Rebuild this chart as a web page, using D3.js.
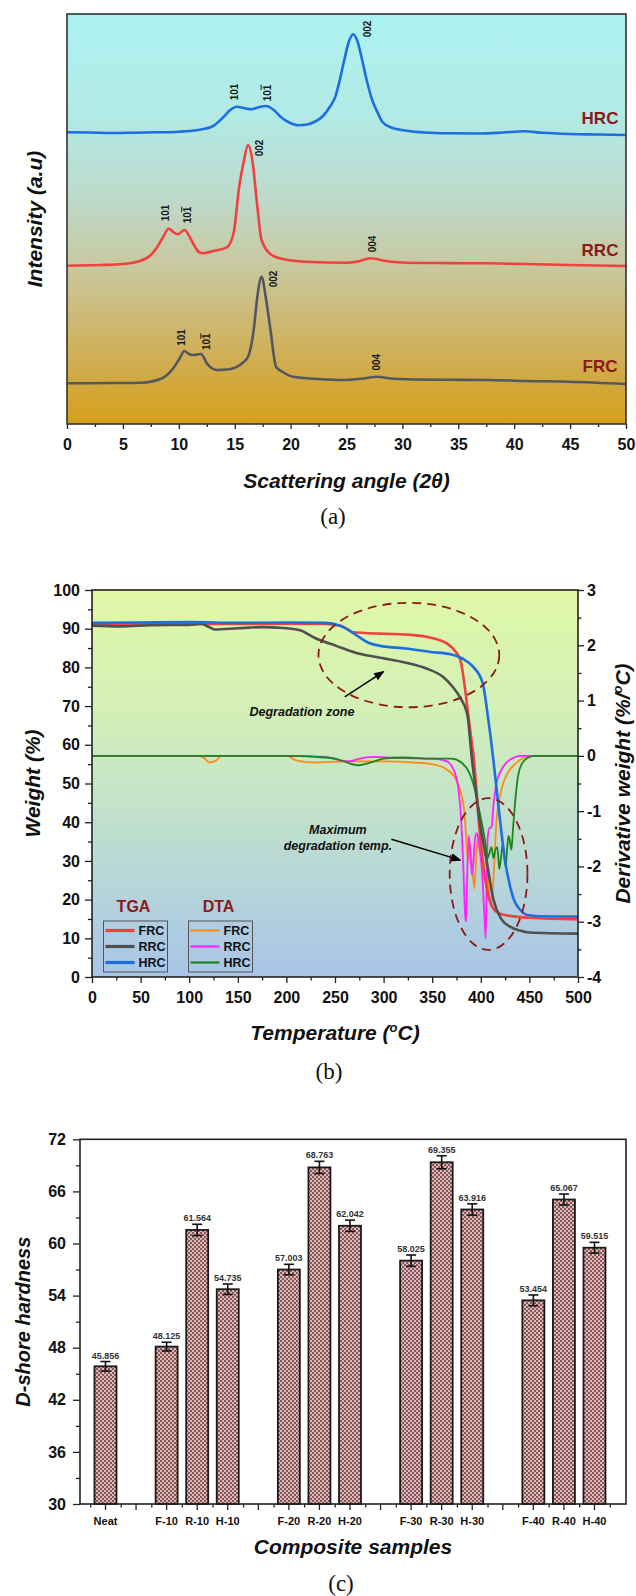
<!DOCTYPE html>
<html><head><meta charset="utf-8">
<script src="https://cdn.jsdelivr.net/npm/d3@7"></script>
<style>
body{margin:0;background:#fff;}
svg{display:block;font-family:"Liberation Sans",Arial,sans-serif;}
.tick text{font-weight:bold;fill:#111;}
</style></head><body>
<svg id="fig" width="636" height="1596"></svg>
<script>
// ---------- Panel (a): XRD (angle, intensity a.u.) ----------
const xrdTicks = [0,5,10,15,20,25,30,35,40,45,50];
const xrdHRC = [[0,291.7],[2,291.5],[4,291],[6,291.3],[8,291.7],[10,292.3],[11,293],[12,294.5],[13,297.5],[14,307],[14.6,314],[15.2,317.3],[15.8,316],[16.5,314.7],[17.2,317],[17.8,318],[18.5,314],[19.1,307.3],[19.8,302],[20.7,298.7],[21.5,299.5],[22.2,302.5],[22.9,308],[23.5,317],[24.0,327.3],[24.4,344],[24.8,364],[25.2,382],[25.6,389.7],[26.0,382],[26.4,364],[26.8,344],[27.3,324],[27.8,311],[28.2,302.3],[29,296.5],[30.4,293.3],[32,291.5],[34,290.7],[37,290.5],[39,291.5],[40.9,292.7],[42.5,291.2],[45,290],[47.5,289.5],[50,289]];
const xrdRRC = [[0,158.3],[3,159],[5,160],[6.5,163],[7.4,168],[8.0,175.7],[8.6,187],[9.1,195.3],[9.5,192],[9.9,189.7],[10.5,194],[11.2,182.3],[11.7,173],[12.1,170.7],[13.2,173.3],[14.3,176.7],[14.9,190.7],[15.4,237.3],[15.8,262],[16.2,279],[16.6,262],[17.0,220],[17.4,184],[18.3,169],[19.5,164.5],[21.3,162.3],[24.9,161.3],[26,162.5],[27.1,165.7],[28.5,163],[30.4,161.3],[34,160.9],[37.6,160.7],[41,160],[44.9,159],[50,158]];
const xrdFRC = [[0,40.7],[4,41],[6.7,41.3],[8.5,45.7],[9.6,57.3],[10.1,66],[10.5,73],[10.9,70],[11.3,69],[12.0,70],[12.5,60.7],[13.4,54],[14.3,54.5],[15.1,56.7],[15.8,62],[16.2,67.3],[16.7,94],[17.0,125],[17.4,147.3],[17.8,125],[18.2,94],[18.7,57.3],[19.3,52],[20.2,47.3],[22.5,45],[24.9,44],[26.5,45.5],[27.7,47.3],[29,45.5],[30.4,44.7],[34,44.2],[37.6,44],[41,43],[44.9,42.3],[50,40]];
// peak annotations: [angle, intensity, text, overline-last]
const peakLabels = [[26.9,395,"002",false],[15.0,332,"101",false],[17.9,331,"101",true],[17.2,276,"002",false],[8.8,211,"101",false],[10.8,209,"101",true],[27.3,180,"004",false],[18.5,145,"002",false],[10.2,86.5,"101",false],[12.5,82.3,"101",true],[27.7,61.8,"004",false]];
const seriesLabelsA = [["HRC",306],["RRC",174],["FRC",58]];

// ---------- Panel (b): TGA (T, weight %) / DTA (T, %/°C) ----------
const tempTicks = [0,50,100,150,200,250,300,350,400,450,500];
const weightTicks = [0,10,20,30,40,50,60,70,80,90,100];
const derivTicks = [-4,-3,-2,-1,0,1,2,3];
const tgaFRC = [[0,91],[50,91.1],[100,91.3],[150,91.2],[200,91.3],[240,91.2],[255,90.8],[262,90],[268,89.1],[281,88.9],[300,88.7],[323,88.5],[344,87.9],[365,86.2],[373,84.4],[379,81.9],[383,76],[386,70],[390,62],[393,56],[395,50],[398,40],[402,30],[407,22],[412,18],[419,16.4],[430,15.8],[450,15.3],[500,14.9]];
const tgaRRC = [[0,90.8],[30,90.6],[60,90.9],[100,91],[113,91.2],[120,90.5],[126,89.8],[150,90.1],[175,90.4],[197,90.2],[214,89.6],[231,87.4],[252,85.5],[271,83.8],[294,82.6],[323,81.2],[344,79.7],[361,77.6],[371,75],[379,72.1],[386,68],[391,56],[395,48],[399,40],[406,30],[413,20],[421,15],[430,13],[440,12],[450,11.5],[500,11.2]];
const tgaHRC = [[0,91.5],[50,91.6],[100,91.7],[150,91.5],[200,91.6],[240,91.5],[255,90.8],[265,89.5],[275,87.8],[285,86.3],[298,85.5],[323,84.9],[348,84],[369,83.4],[381,82.3],[392,80.2],[402,75.9],[408,66],[413,56],[420,40],[425,30],[430,23.5],[434,20],[440,17.5],[448,16],[460,15.7],[500,15.6]];
const dtaFRC = [[0,0],[110,0],[116,-0.05],[121,-0.12],[128,-0.08],[133,0],[200,0],[210,-0.08],[230,-0.12],[260,-0.1],[300,-0.1],[330,-0.12],[350,-0.15],[365,-0.25],[375,-0.45],[380,-0.7],[383,-1.0],[385,-1.5],[387,-1.9],[388.5,-1.55],[390,-1.8],[392,-2.2],[393.5,-2.4],[395,-1.9],[397,-1.5],[398.5,-1.45],[400,-1.65],[402,-1.9],[404,-2.0],[406,-1.8],[408,-2.3],[410,-2.65],[412,-2.5],[414,-1.9],[416,-1.2],[419,-0.8],[423,-0.5],[428,-0.3],[435,-0.15],[445,-0.03],[455,0],[500,0]];
const dtaRRC = [[0,0],[100,0],[200,0],[240,-0.02],[255,-0.08],[265,-0.1],[275,-0.05],[290,-0.02],[320,-0.04],[350,-0.05],[365,-0.1],[372,-0.25],[377,-0.6],[380,-1.2],[382,-2.0],[384,-2.9],[385,-3.0],[386,-2.2],[387.5,-1.45],[389,-1.7],[391,-2.15],[392.5,-1.9],[394,-1.5],[396,-1.4],[398,-1.6],[400,-1.85],[402,-2.3],[404,-3.0],[405,-3.3],[406,-2.4],[407,-1.5],[409,-1.3],[411,-1.3],[413,-0.9],[416,-0.5],[420,-0.3],[425,-0.15],[432,-0.05],[440,0],[500,0]];
const dtaHRC = [[0,0],[50,0],[100,0],[150,0],[200,0],[230,-0.02],[250,-0.05],[262,-0.12],[275,-0.17],[287,-0.12],[300,-0.05],[320,-0.03],[350,-0.05],[370,-0.05],[380,-0.12],[388,-0.3],[393,-0.55],[398,-0.95],[402,-1.3],[405,-1.6],[407,-1.85],[409,-1.75],[411,-1.65],[413,-1.85],[415,-1.7],[417,-1.65],[419,-2.05],[421,-1.8],[422.5,-1.6],[424,-1.8],[425.5,-2.0],[427,-1.7],[428.5,-1.45],[430,-1.55],[431.5,-1.7],[433,-1.35],[435,-0.9],[438,-0.4],[442,-0.15],[448,-0.04],[455,0],[500,0]];

// ---------- Panel (c): D-shore hardness ----------
const slots = ["Neat","","F-10","R-10","H-10","","F-20","R-20","H-20","","F-30","R-30","H-30","","F-40","R-40","H-40"];
const samples = ["Neat","F-10","R-10","H-10","F-20","R-20","H-20","F-30","R-30","H-30","F-40","R-40","H-40"];
const hardness = [45.856,48.125,61.564,54.735,57.003,68.763,62.042,58.025,69.355,63.916,53.454,65.067,59.515];
const hardnessErr = [0.55,0.5,0.65,0.6,0.6,0.7,0.65,0.65,0.75,0.65,0.62,0.63,0.62];
const hardTicks = [30,36,42,48,54,60,66,72];

// ================= drawing =================
const svg = d3.select('#fig');
const defs = svg.append('defs');
function grad(id, stops){
  const g = defs.append('linearGradient').attr('id',id).attr('x1',0).attr('y1',0).attr('x2',0).attr('y2',1);
  stops.forEach(([o,c])=>g.append('stop').attr('offset',o).attr('stop-color',c));
}
grad('gA',[[0,'#acf2f1'],[0.25,'#b2eae5'],[0.45,'#bddacb'],[0.6,'#c7caa3'],[0.75,'#cdb873'],[0.9,'#d2a83e'],[1,'#d5a01b']]);
grad('gB',[[0,'#dff8a6'],[0.3,'#d4f0b6'],[0.5,'#c6e6c6'],[0.75,'#b6d6d8'],[1,'#a8c4e8']]);
const pat = defs.append('pattern').attr('id','hatch').attr('width',4).attr('height',4).attr('patternUnits','userSpaceOnUse');
pat.append('rect').attr('width',4).attr('height',4).attr('fill','#e6b4b4');
pat.append('rect').attr('width',2).attr('height',2).attr('fill','#7e5a5a');
pat.append('rect').attr('x',2).attr('y',2).attr('width',2).attr('height',2).attr('fill','#7e5a5a');
defs.append('marker').attr('id','arr').attr('viewBox','0 0 10 10').attr('refX',9).attr('refY',5)
  .attr('markerWidth',7).attr('markerHeight',7).attr('orient','auto-start-reverse')
  .append('path').attr('d','M0,1 L10,5 L0,9 z').attr('fill','#000');

function styleAxis(g, fs){
  g.select('.domain').remove();
  g.selectAll('.tick line').attr('stroke','#222').attr('stroke-width',1.3);
  g.selectAll('.tick text').attr('font-size',fs);
}
const darkRed = '#8b1a1a';

// ---- Panel (a)
const xA = d3.scaleLinear().domain([0,50]).range([67,626]);
const yA = d3.scaleLinear().domain([0,410]).range([424,14]);
const gA = svg.append('g');
gA.append('rect').attr('x',xA(0)).attr('y',yA(410)).attr('width',xA(50)-xA(0)).attr('height',yA(0)-yA(410)).attr('fill','url(#gA)');
const lineA = d3.line().x(d=>xA(d[0])).y(d=>yA(d[1])).curve(d3.curveMonotoneX);
[[xrdHRC,'#1d6fe0'],[xrdRRC,'#f0413f'],[xrdFRC,'#54585e']].forEach(([d,c])=>{
  gA.append('path').datum(d).attr('d',lineA).attr('fill','none').attr('stroke',c).attr('stroke-width',2.6).attr('stroke-linejoin','round');
});
peakLabels.forEach(([a,v,t,ov])=>{
  const tx = gA.append('text').attr('transform',`translate(${xA(a)},${yA(v)}) rotate(-90)`)
    .attr('text-anchor','middle').attr('dy','0.35em').attr('font-size',10).attr('font-weight','bold').attr('fill','#1a1a1a');
  if(ov){ tx.append('tspan').text('10'); tx.append('tspan').attr('text-decoration','overline').text('1'); }
  else tx.text(t);
});
seriesLabelsA.forEach(([t,v])=>{
  gA.append('text').attr('x',600).attr('y',yA(v)).attr('dy','0.35em').attr('text-anchor','middle')
    .attr('font-size',17).attr('font-weight','bold').attr('fill',darkRed).text(t);
});
const axA = gA.append('g').attr('transform','translate(0,424)')
  .call(d3.axisBottom(xA).tickValues(xrdTicks).tickSize(5).tickPadding(10).tickSizeOuter(0));
styleAxis(axA,16);
const axAm = gA.append('g').attr('transform','translate(0,424)')
  .call(d3.axisBottom(xA).tickValues(xrdTicks.slice(0,-1).map(d=>d+2.5)).tickSize(3).tickFormat(''));
styleAxis(axAm,16);
gA.append('rect').attr('x',xA(0)).attr('y',yA(410)).attr('width',xA(50)-xA(0)).attr('height',yA(0)-yA(410)).attr('fill','none').attr('stroke','#333').attr('stroke-width',1.6);
gA.append('text').attr('x',(xA(0)+xA(50))/2).attr('y',487.5).attr('text-anchor','middle').attr('font-size',21).attr('font-weight','bold').attr('font-style','italic').attr('fill','#111').text('Scattering angle (2θ)');
gA.append('text').attr('transform',`translate(35,${(yA(0)+yA(410))/2}) rotate(-90)`).attr('text-anchor','middle').attr('dy','0.35em').attr('font-size',21).attr('font-weight','bold').attr('font-style','italic').attr('fill','#111').text('Intensity (a.u)');
svg.append('text').attr('x',333).attr('y',524).attr('text-anchor','middle').attr('font-family','"Liberation Serif","Times New Roman",serif').attr('font-size',23).attr('fill','#111').text('(a)');

// ---- Panel (b)
const xB = d3.scaleLinear().domain([0,500]).range([92,578]);
const yBL = d3.scaleLinear().domain([0,100]).range([977,590]);
const yBR = d3.scaleLinear().domain([-4,3]).range([977,590]);
const gB = svg.append('g');
gB.append('rect').attr('x',xB(0)).attr('y',yBL(100)).attr('width',xB(500)-xB(0)).attr('height',yBL(0)-yBL(100)).attr('fill','url(#gB)');
const lineL = d3.line().x(d=>xB(d[0])).y(d=>yBL(d[1])).curve(d3.curveMonotoneX);
const lineR = d3.line().x(d=>xB(d[0])).y(d=>yBR(d[1])).curve(d3.curveMonotoneX);
[[dtaFRC,'#ff8a1c'],[dtaRRC,'#ff22ff'],[dtaHRC,'#1c861c']].forEach(([d,c])=>{
  gB.append('path').datum(d).attr('d',lineR).attr('fill','none').attr('stroke',c).attr('stroke-width',1.8).attr('stroke-linejoin','round');
});
[[tgaFRC,'#f0413f'],[tgaRRC,'#505050'],[tgaHRC,'#1d6fe0']].forEach(([d,c])=>{
  gB.append('path').datum(d).attr('d',lineL).attr('fill','none').attr('stroke',c).attr('stroke-width',2.6).attr('stroke-linejoin','round');
});
// annotations
function ell(cx,cy,rx,ry){
  gB.append('ellipse').attr('cx',xB(cx)).attr('cy',yBL(cy)).attr('rx',xB(cx+rx)-xB(cx)).attr('ry',yBL(cy-ry)-yBL(cy))
    .attr('fill','none').attr('stroke',darkRed).attr('stroke-width',1.8).attr('stroke-dasharray','9,6');
}
ell(326,83.2,93,13.5);
ell(408,26.6,40,19.6);
function arrow(t0,w0,t1,w1){
  gB.append('line').attr('x1',xB(t0)).attr('y1',yBL(w0)).attr('x2',xB(t1)).attr('y2',yBL(w1)).attr('stroke','#000').attr('stroke-width',1.5).attr('marker-end','url(#arr)');
}
arrow(260,72.4,300,78.9);
arrow(308,35.6,379,30.2);
function ann(t,w,txt){
  gB.append('text').attr('x',xB(t)).attr('y',yBL(w)).attr('dy','0.35em').attr('text-anchor','middle').attr('font-size',12.5).attr('font-weight','bold').attr('font-style','italic').attr('fill','#111').text(txt);
}
ann(216,68.6,'Degradation zone');
ann(253,38,'Maximum');
ann(253,33.9,'degradation temp.');
// legends
function legend(x,title,items,w){
  gB.append('text').attr('x',x+30).attr('y',906).attr('dy','0.35em').attr('text-anchor','middle').attr('font-size',16).attr('font-weight','bold').attr('fill',darkRed).text(title);
  gB.append('rect').attr('x',x).attr('y',921).attr('width',64).attr('height',51).attr('fill','none').attr('stroke','#555').attr('stroke-width',1);
  items.forEach(([t,c],i)=>{
    const yy = 930.5 + i*16;
    gB.append('line').attr('x1',x+2).attr('x2',x+31).attr('y1',yy).attr('y2',yy).attr('stroke',c).attr('stroke-width',w);
    gB.append('text').attr('x',x+35).attr('y',yy).attr('dy','0.36em').attr('font-size',12.5).attr('font-weight','bold').attr('fill','#111').text(t);
  });
}
legend(103.5,'TGA',[['FRC','#f0413f'],['RRC','#505050'],['HRC','#1d6fe0']],3.2);
legend(188.5,'DTA',[['FRC','#ff8a1c'],['RRC','#ff22ff'],['HRC','#1c861c']],2.2);
// axes
const axBx = gB.append('g').attr('transform','translate(0,977)').call(d3.axisBottom(xB).tickValues(tempTicks).tickSize(6).tickPadding(9));
styleAxis(axBx,16);
const axBxm = gB.append('g').attr('transform','translate(0,977)').call(d3.axisBottom(xB).tickValues(tempTicks.slice(0,-1).map(d=>d+25)).tickSize(3.5).tickFormat(''));
styleAxis(axBxm,16);
const axBl = gB.append('g').attr('transform','translate(92,0)').call(d3.axisLeft(yBL).tickValues(weightTicks).tickSize(7).tickPadding(5));
styleAxis(axBl,16);
const axBlm = gB.append('g').attr('transform','translate(92,0)').call(d3.axisLeft(yBL).tickValues(weightTicks.slice(0,-1).map(d=>d+5)).tickSize(4).tickFormat(''));
styleAxis(axBlm,16);
const axBr = gB.append('g').attr('transform','translate(578,0)').call(d3.axisRight(yBR).tickValues(derivTicks).tickSize(6).tickPadding(3).tickFormat(d=>String(d)));
styleAxis(axBr,16);
const axBrm = gB.append('g').attr('transform','translate(578,0)').call(d3.axisRight(yBR).tickValues(derivTicks.slice(0,-1).map(d=>d+0.5)).tickSize(3.5).tickFormat(''));
styleAxis(axBrm,16);
gB.append('rect').attr('x',xB(0)).attr('y',yBL(100)).attr('width',xB(500)-xB(0)).attr('height',yBL(0)-yBL(100)).attr('fill','none').attr('stroke','#222').attr('stroke-width',1.6);
const tT = gB.append('text').attr('x',(xB(0)+xB(500))/2).attr('y',1040).attr('text-anchor','middle').attr('font-size',21).attr('font-weight','bold').attr('font-style','italic').attr('fill','#111');
tT.append('tspan').text('Temperature (');
tT.append('tspan').attr('font-size',13).attr('dy',-8).text('o');
tT.append('tspan').attr('dy',8).text('C)');
gB.append('text').attr('transform',`translate(33,${(yBL(0)+yBL(100))/2}) rotate(-90)`).attr('text-anchor','middle').attr('dy','0.35em').attr('font-size',21).attr('font-weight','bold').attr('font-style','italic').attr('fill','#111').text('Weight (%)');
const tR = gB.append('text').attr('transform',`translate(623,${(yBL(0)+yBL(100))/2}) rotate(-90)`).attr('text-anchor','middle').attr('dy','0.35em').attr('font-size',21).attr('font-weight','bold').attr('font-style','italic').attr('fill','#111');
tR.append('tspan').text('Derivative weight (%/');
tR.append('tspan').attr('font-size',13).attr('dy',-8).text('o');
tR.append('tspan').attr('dy',8).text('C)');
svg.append('text').attr('x',329).attr('y',1079).attr('text-anchor','middle').attr('font-family','"Liberation Serif","Times New Roman",serif').attr('font-size',23).attr('fill','#111').text('(b)');

// ---- Panel (c)
const xC = d3.scaleBand().domain(d3.range(slots.length)).range([80,626]).paddingInner(0.28).paddingOuter(0.5727).align(0.414);
const yC = d3.scaleLinear().domain([30,72]).range([1504,1139.3]);
const gC = svg.append('g');
const bw = xC.bandwidth();
samples.forEach((s,i)=>{
  const k = slots.indexOf(s);
  const x = xC(k), v = hardness[i], e = hardnessErr[i];
  gC.append('rect').attr('x',x).attr('y',yC(v)).attr('width',bw).attr('height',yC(30)-yC(v)).attr('fill','url(#hatch)').attr('stroke','#1a1a1a').attr('stroke-width',1.8);
  const cx = x+bw/2;
  gC.append('line').attr('x1',cx).attr('x2',cx).attr('y1',yC(v-e)).attr('y2',yC(v+e)).attr('stroke','#111').attr('stroke-width',1.6);
  [v-e,v+e].forEach(t=>gC.append('line').attr('x1',cx-5).attr('x2',cx+5).attr('y1',yC(t)).attr('y2',yC(t)).attr('stroke','#111').attr('stroke-width',1.6));
  gC.append('text').attr('x',cx).attr('y',yC(v+e)-3).attr('text-anchor','middle').attr('font-size',9).attr('font-weight','bold').attr('fill','#333').text(v.toFixed(3));
});
const axCx = gC.append('g').attr('transform','translate(0,1504)').call(d3.axisBottom(xC).tickSize(6).tickPadding(7).tickFormat(i=>slots[i]));
styleAxis(axCx,11);
const c0 = xC(0)+bw/2, step = xC.step();
const xSlot = d3.scaleLinear().domain([0,1]).range([c0,c0+step]);
const axCxm = gC.append('g').attr('transform','translate(0,1504)').call(d3.axisBottom(xSlot).tickValues(d3.range(-0.5,slots.length,1)).tickSize(3.5).tickFormat(''));
styleAxis(axCxm,11);
const axCy = gC.append('g').attr('transform','translate(80,0)').call(d3.axisLeft(yC).tickValues(hardTicks).tickSize(7).tickPadding(7));
styleAxis(axCy,16);
const axCym = gC.append('g').attr('transform','translate(80,0)').call(d3.axisLeft(yC).tickValues(hardTicks.slice(0,-1).map(d=>d+3)).tickSize(4).tickFormat(''));
styleAxis(axCym,16);
gC.append('rect').attr('x',80).attr('y',yC(72)).attr('width',546).attr('height',yC(30)-yC(72)).attr('fill','none').attr('stroke','#222').attr('stroke-width',1.6);
gC.append('text').attr('x',353).attr('y',1554).attr('text-anchor','middle').attr('font-size',21).attr('font-weight','bold').attr('font-style','italic').attr('fill','#111').text('Composite samples');
gC.append('text').attr('transform',`translate(23,${(yC(30)+yC(72))/2}) rotate(-90)`).attr('text-anchor','middle').attr('dy','0.35em').attr('font-size',20).attr('font-weight','bold').attr('font-style','italic').attr('fill','#111').text('D-shore hardness');
svg.append('text').attr('x',341).attr('y',1591).attr('text-anchor','middle').attr('font-family','"Liberation Serif","Times New Roman",serif').attr('font-size',23).attr('fill','#111').text('(c)');
</script>
</body></html>
